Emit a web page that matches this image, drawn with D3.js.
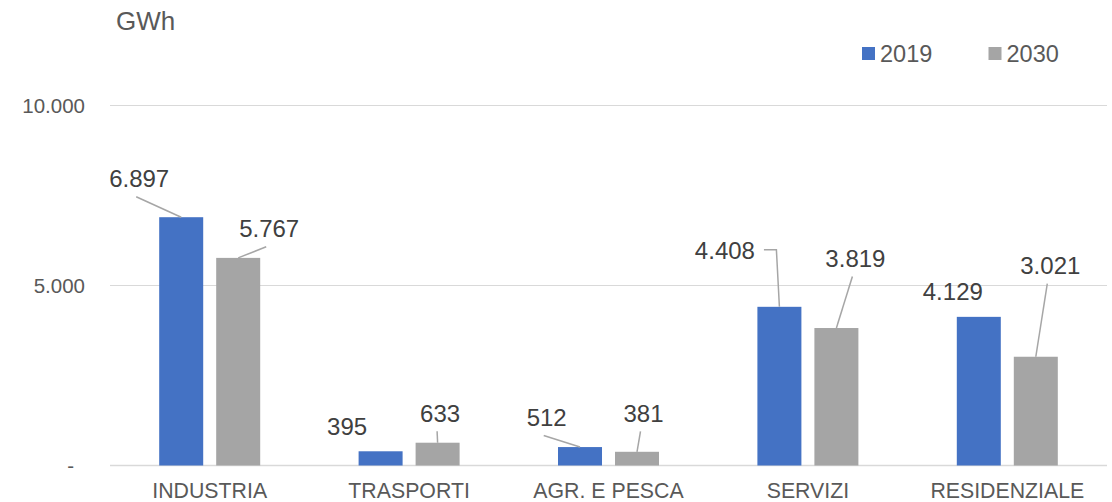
<!DOCTYPE html>
<html>
<head>
<meta charset="utf-8">
<script src="https://cdn.jsdelivr.net/npm/d3@7"></script>
<style>
  html, body { margin: 0; padding: 0; background: #fff; }
  svg { display: block; font-family: "Liberation Sans", Arial, sans-serif; }
</style>
</head>
<body>
<svg id="chart" width="1112" height="502"></svg>
<script>
const categories = ["INDUSTRIA", "TRASPORTI", "AGR. E PESCA", "SERVIZI", "RESIDENZIALE"];
const seriesNames = ["2019", "2030"];
const values2019 = [6897, 395, 512, 4408, 4129];
const values2030 = [5767, 633, 381, 3819, 3021];
const yTicks = [0, 5000, 10000];
const unitLabel = "GWh";

// label placement (pixel offsets of label centre/baseline from bar top centre)
const labelOffsets2019 = [[-42, -30], [-33.5, -16], [-33.3, -21], [-54.5, -48], [-26, -17]];
const labelOffsets2030 = [[31, -20.6], [2.5, -21], [6.5, -30], [19, -61], [14.5, -82.7]];
const leader2019 = ["line", "none", "line", "elbow", "none"];
const leader2030 = ["line", "line", "line", "line", "line"];

const colors = ["#4472C4", "#A5A5A5"];
const textColor = "#595959";
const valueColor = "#404040";

const svg = d3.select("#chart");
const plot = { left: 110, right: 1107, top: 105.5, bottom: 465.5 };

const it = d3.formatLocale({ decimal: ",", thousands: ".", grouping: [3], currency: ["", "€"] });
const fmt = it.format(",d");

const x0 = d3.scaleBand().domain(categories).range([plot.left, plot.right]).paddingInner(0).paddingOuter(0);
const groupW = 101;
const x1 = d3.scaleBand().domain(seriesNames)
  .range([x0.bandwidth() / 2 - groupW / 2, x0.bandwidth() / 2 + groupW / 2])
  .paddingInner(0.228).paddingOuter(0);
const y = d3.scaleLinear().domain([0, 10000]).range([plot.bottom, plot.top]);

// gridlines
svg.append("g").selectAll("line").data(yTicks).join("line")
  .attr("x1", plot.left).attr("x2", plot.right)
  .attr("y1", d => y(d)).attr("y2", d => y(d))
  .attr("stroke", "#D9D9D9").attr("stroke-width", d => d === 0 ? 1.4 : 1);

// y axis
const yAxis = svg.append("g").attr("transform", `translate(${plot.left},0)`)
  .call(d3.axisLeft(y).tickValues(yTicks).tickSize(0).tickPadding(25)
    .tickFormat(d => d === 0 ? "-" : fmt(d)));
yAxis.select(".domain").remove();
yAxis.selectAll("text")
  .attr("fill", textColor).style("font-size", "20.5px")
  .style("font-family", '"Liberation Sans", Arial, sans-serif')
  .attr("dx", d => d === 0 ? -11 : 0);

// x axis
const xAxis = svg.append("g").attr("transform", `translate(0,${plot.bottom})`)
  .call(d3.axisBottom(x0).tickSize(0).tickPadding(17));
xAxis.select(".domain").remove();
xAxis.selectAll("text")
  .attr("fill", textColor).style("font-size", "21.3px")
  .style("font-family", '"Liberation Sans", Arial, sans-serif');

// data table
const rows = categories.map((c, i) => ({
  cat: c,
  bars: [
    { s: seriesNames[0], v: values2019[i], off: labelOffsets2019[i], lead: leader2019[i], ci: 0 },
    { s: seriesNames[1], v: values2030[i], off: labelOffsets2030[i], lead: leader2030[i], ci: 1 }
  ]
}));

const groups = svg.append("g").selectAll("g").data(rows).join("g")
  .attr("transform", d => `translate(${x0(d.cat)},0)`);

groups.selectAll("rect").data(d => d.bars).join("rect")
  .attr("x", d => x1(d.s)).attr("width", x1.bandwidth())
  .attr("y", d => y(d.v)).attr("height", d => y(0) - y(d.v))
  .attr("fill", d => colors[d.ci]);

// labels + leaders
const labelLayer = svg.append("g");
rows.forEach(r => {
  r.bars.forEach(b => {
    const cx = x0(r.cat) + x1(b.s) + x1.bandwidth() / 2;
    const top = y(b.v);
    const lx = cx + b.off[0];
    const ly = top + b.off[1];
    const t = labelLayer.append("text")
      .attr("x", lx).attr("y", ly)
      .attr("text-anchor", "middle")
      .attr("fill", valueColor)
      .style("font-size", "24px")
      .text(fmt(b.v));
    const w = t.node().getComputedTextLength();
    if (b.lead === "line") {
      labelLayer.append("path")
        .attr("d", d3.line()([[lx - 3, ly + 9.5], [cx, top]]))
        .attr("fill", "none").attr("stroke", "#A6A6A6").attr("stroke-width", 1.5);
    } else if (b.lead === "elbow") {
      const sx = lx + w / 2 + 9, sy = ly - 9;
      labelLayer.append("path")
        .attr("d", d3.line()([[sx, sy], [cx - 3, sy], [cx, top]]))
        .attr("fill", "none").attr("stroke", "#A6A6A6").attr("stroke-width", 1.5);
    }
  });
});

// unit label
svg.append("text").attr("x", 116).attr("y", 30)
  .attr("fill", textColor).style("font-size", "26px").text(unitLabel);

// legend
const legendX = [862, 988.5];
const legend = svg.append("g").selectAll("g").data(seriesNames).join("g")
  .attr("transform", (d, i) => `translate(${legendX[i]},47)`);
legend.append("rect").attr("width", 13).attr("height", 13).attr("fill", (d, i) => colors[i]);
legend.append("text").attr("x", 18).attr("y", 14.8)
  .attr("fill", textColor).style("font-size", "23.5px").text(d => d);
</script>
</body>
</html>
